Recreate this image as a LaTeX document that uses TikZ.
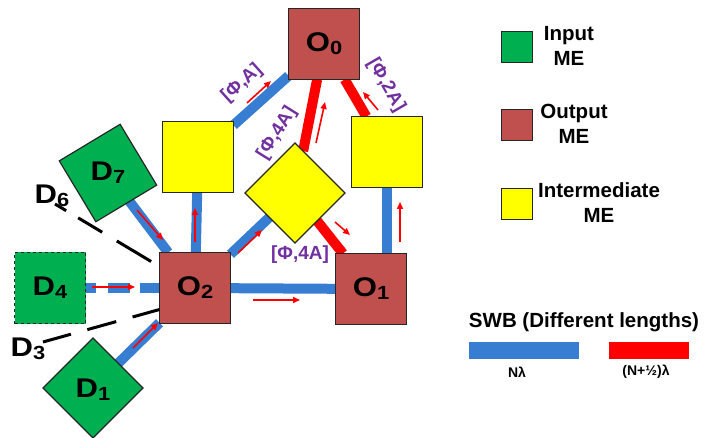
\documentclass[tikz,border=0pt]{standalone}
\usepackage{fontspec}
\setmainfont{Liberation Sans}
\usetikzlibrary{shapes.geometric,arrows.meta,backgrounds,calc}
\definecolor{boxred}{RGB}{192,80,77}
\definecolor{megreen}{RGB}{0,176,80}
\definecolor{meyellow}{RGB}{255,255,0}
\definecolor{swbblue}{RGB}{55,125,210}
\definecolor{swbred}{RGB}{255,0,0}
\definecolor{lblpurple}{RGB}{112,48,160}
\newcommand\mysub[1]{\raisebox{-3pt}{\fontsize{19}{19}\selectfont#1}}
\begin{document}
\begin{tikzpicture}[x=1pt,y=-1pt,
  me/.style={draw=black!85,line width=1.2pt,minimum size=71pt,inner sep=0pt,outer sep=0pt},
  outme/.style={me,fill=boxred},
  inme/.style={me,fill=megreen},
  midme/.style={me,fill=meyellow},
  dia/.style={diamond,minimum width=100pt,minimum height=100pt},
  big/.style={font=\fontsize{27}{30}\selectfont\bfseries,xscale=1.15,inner sep=0pt},
  plbl/.style={font=\fontsize{19}{20}\selectfont\bfseries,text=lblpurple,inner sep=0pt},
  legtxt/.style={font=\fontsize{20.5}{25}\selectfont\bfseries,align=center,inner sep=0pt},
  legsq/.style={draw=black!85,line width=1.2pt,minimum size=31pt,inner sep=0pt},
  smalltxt/.style={font=\fontsize{14}{16}\selectfont\bfseries,inner sep=0pt},
  bline/.style={draw=swbblue,line width=10pt},
  rline/.style={draw=swbred,line width=10pt},
  kdash/.style={draw=black,line width=3pt},
  redarr/.style={draw=red,line width=1.6pt,-{Triangle[length=7pt,width=6pt]}}
]
\useasboundingbox (0,0) rectangle (704,438);

% main elements
\node[outme] (o0) at (324,44) {};
\node[big] at (o0) {O\mysub{0}};
\node[midme] (yl) at (198,157) {};
\node[midme] (yr) at (387,152) {};
\node[midme,dia] (dm) at (295,193) {};
\node[outme] (o2) at (195,288) {};
\node[big] at (o2) {O\mysub{2}};
\node[outme] (o1) at (371,289) {};
\node[big] at (o1) {O\mysub{1}};
\node[inme,rotate=31] (d7) at (108,173) {};
\node[big] at (d7) {D\mysub{7}};
\node[inme,dashed] (d4) at (50,288) {};
\node[big] at (d4) {D\mysub{4}};
\node[inme,dia] (d1) at (93,388) {};
\node[big] at ($(d1)+(0,2)$) {D\mysub{1}};
\node[big] (d6lbl) at (52,196) {D\mysub{6}};
\node[big] (d3lbl) at (28,349) {D\mysub{3}};
\coordinate (d6tail) at (55,204);
\coordinate (d3tail) at (43,342);

\begin{pgfonlayer}{background}
  \draw[bline] (yl) -- (o0);
  \draw[bline] (yl) -- (o2);
  \draw[bline] (o2) -- (dm);
  \draw[bline] (o2) -- (o1);
  \draw[bline] (yr) -- (yr |- o1);
  \draw[bline] (d7) -- (o2);
  \draw[bline] (d1) -- (o2);
  \draw[bline,dash pattern=on 10pt off 12pt on 22pt off 10pt on 40pt] (d4.east) -- (o2);
  \draw[rline] (o0) -- (dm);
  \draw[rline] (o0) -- (yr);
  \draw[rline] (dm) -- (o1);
\end{pgfonlayer}

\draw[kdash,dash pattern=on 13pt off 14pt on 28pt off 17pt on 40pt] (d6tail) -- ($(o2.north west)+(0,14)$);
\draw[kdash,dash pattern=on 29pt off 17pt on 30pt off 17pt] (d3tail) -- ($(o2.south west)+(0,-14)$);

% flow arrows
\draw[redarr] (247,103) -- (271,81);
\draw[redarr] (316,143) -- (325,102);
\draw[redarr] (378,110) -- (363,92);
\draw[redarr] (335,222) -- (350,235);
\draw[redarr] (253,300) -- (300,300);
\draw[redarr] (400,242) -- (400,202);
\draw[redarr] (238,253) -- (262,230);
\draw[redarr] (195,242) -- (195,208);
\draw[redarr] (137,210) -- (163,240);
\draw[redarr] (92,287) -- (135,287);
\draw[redarr] (133,348) -- (158,323);

% purple labels
\node[plbl,rotate=42] (la) at (242,83) {[Φ,A]};
\node[plbl,rotate=58] (lb) at (277,133) {[Φ,4A]};
\node[plbl,rotate=-60] (lc) at (386,85) {[Φ,2A]};
\node[plbl] (ld) at (300,255) {[Φ,4A]};

% legend
\node[legsq,fill=megreen] (kg) at (517,47) {};
\node[legtxt] (kgt) at (569,46) {Input\\ME};
\node[legsq,fill=boxred] (kr) at (517,125) {};
\node[legtxt] (krt) at (574,124) {Output\\ME};
\node[legsq,fill=meyellow] (ky) at (517,204) {};
\node[legtxt] (kyt) at (599,203) {Intermediate\\ME};
\node[legtxt] (swb) at (584,322) {SWB (Different lengths)};
\fill[swbblue] (469,342) rectangle (579,359);
\fill[swbred] (609,342) rectangle (689,359);
\node[smalltxt] (nl) at (517,372) {Nλ};
\node[smalltxt] (nhl) at (646,372) {(N+½)λ};
\end{tikzpicture}
\end{document}
